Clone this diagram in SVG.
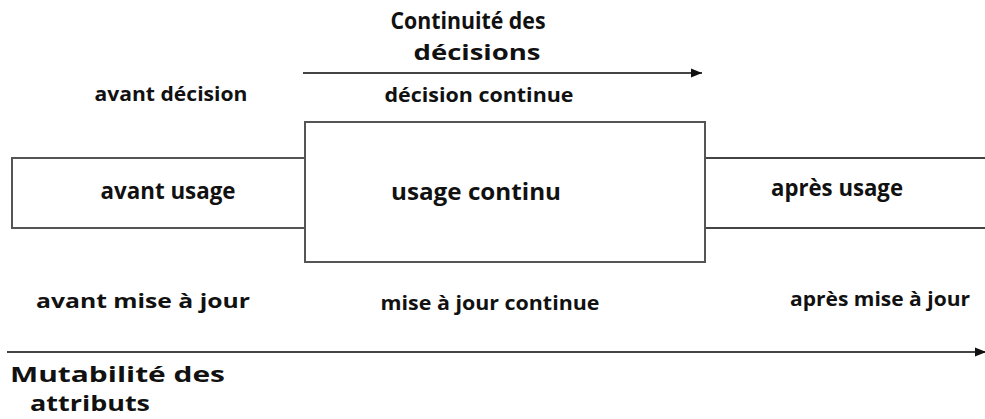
<svg xmlns="http://www.w3.org/2000/svg" width="985" height="419" viewBox="0 0 985 419">
<defs>
<style>
.t{font-family:"Open Sans","Noto Sans","Liberation Sans",sans-serif;font-weight:bold;fill:#111;}
.h{font-size:24px;}
.h2{font-size:22px;}
.hb{font-size:22px;}
.box{font-size:23px;}
.sm{font-size:19px;}
.bx{fill:#fff;stroke:#555;stroke-width:2;}
.ln{stroke:#444;stroke-width:2;fill:none;}
</style>
<marker id="ah" markerWidth="12" markerHeight="10" refX="11" refY="5" orient="auto" markerUnits="userSpaceOnUse">
<path d="M0,0.5 L11,5 L0,9.5 Z" fill="#111"/>
</marker>
</defs>
<rect width="985" height="419" fill="#fff"/>
<g id="connectors">
<line class="ln" x1="303" y1="73" x2="702" y2="73" marker-end="url(#ah)"/>
<line class="ln" x1="7" y1="352" x2="986" y2="352" marker-end="url(#ah)"/>
</g>
<g id="avant-usage">
<rect class="bx" x="12" y="158" width="293" height="70"/>
<text class="t box" x="168" y="199" text-anchor="middle" textLength="135" lengthAdjust="spacingAndGlyphs">avant usage</text>
</g>
<g id="apres-usage">
<path class="ln" d="M705,158 H986 M705,228 H986"/>
<text class="t box" x="837" y="196" text-anchor="middle" textLength="132" lengthAdjust="spacingAndGlyphs">après usage</text>
</g>
<g id="usage-continu">
<rect class="bx" x="305" y="122" width="400" height="140"/>
<text class="t box" x="476" y="200" text-anchor="middle" textLength="170" lengthAdjust="spacingAndGlyphs">usage continu</text>
</g>
<g id="labels">
<text class="t h" x="468" y="29" text-anchor="middle" textLength="155" lengthAdjust="spacingAndGlyphs">Continuité des</text>
<text class="t h2" x="477" y="60" text-anchor="middle" textLength="127" lengthAdjust="spacingAndGlyphs">décisions</text>
<text class="t sm" x="171" y="101" text-anchor="middle" textLength="153" lengthAdjust="spacingAndGlyphs">avant décision</text>
<text class="t sm" x="479" y="102" text-anchor="middle" textLength="189" lengthAdjust="spacingAndGlyphs">décision continue</text>
<text class="t sm" x="143" y="308" text-anchor="middle" textLength="214" lengthAdjust="spacingAndGlyphs">avant mise à jour</text>
<text class="t sm" x="490" y="310" text-anchor="middle" textLength="219" lengthAdjust="spacingAndGlyphs">mise à jour continue</text>
<text class="t sm" x="880" y="306" text-anchor="middle" textLength="180" lengthAdjust="spacingAndGlyphs">après mise à jour</text>
<text class="t hb" x="10" y="382" textLength="215" lengthAdjust="spacingAndGlyphs">Mutabilité des</text>
<text class="t hb" x="30" y="411" textLength="120" lengthAdjust="spacingAndGlyphs">attributs</text>
</g>
</svg>
